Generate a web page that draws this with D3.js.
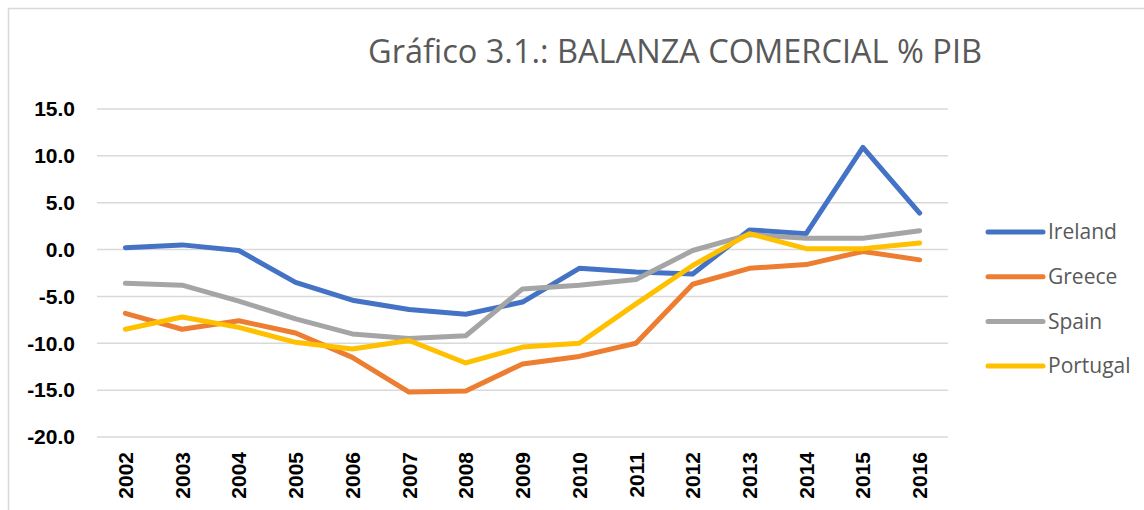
<!DOCTYPE html>
<html>
<head>
<meta charset="utf-8">
<script src="https://cdn.jsdelivr.net/npm/d3@7"></script>
<style>
  body { margin: 0; background: #fff; }
  svg { display: block; }
</style>
</head>
<body>
<div id="chart"></div>
<script>
var YEARS = ['2002','2003','2004','2005','2006','2007','2008','2009','2010','2011','2012','2013','2014','2015','2016'];
var IRELAND  = [0.2, 0.5, -0.1, -3.5, -5.4, -6.4, -6.9, -5.6, -2.0, -2.4, -2.6, 2.1, 1.7, 10.9, 3.9];
var GREECE   = [-6.8, -8.5, -7.6, -8.9, -11.5, -15.2, -15.1, -12.2, -11.4, -10.0, -3.7, -2.0, -1.6, -0.2, -1.1];
var SPAIN    = [-3.6, -3.8, -5.5, -7.4, -9.0, -9.5, -9.2, -4.2, -3.8, -3.2, -0.1, 1.6, 1.2, 1.2, 2.0];
var PORTUGAL = [-8.5, -7.2, -8.3, -9.9, -10.6, -9.7, -12.1, -10.4, -10.0, -5.8, -1.7, 1.7, 0.1, 0.1, 0.7];
var SERIES_NAMES = ['Ireland', 'Greece', 'Spain', 'Portugal'];
var Y_TICKS = [15, 10, 5, 0, -5, -10, -15, -20];
var TITLE = 'Gráfico 3.1.: BALANZA COMERCIAL % PIB';

var W = 1144, H = 510;
var COLORS = ['#4472C4', '#ED7D31', '#A5A5A5', '#FFC000'];
var series = [IRELAND, GREECE, SPAIN, PORTUGAL].map(function(vals, i){
    return {name: SERIES_NAMES[i], color: COLORS[i], values: vals};
});

var svg = d3.select('#chart').append('svg')
    .attr('width', W).attr('height', H);

// outer chart frame
svg.append('rect')
    .attr('x', 8.5).attr('y', 8.5)
    .attr('width', W).attr('height', H)
    .attr('fill', 'none').attr('stroke', '#D9D9D9').attr('stroke-width', 1.5);

var x = d3.scaleBand().domain(YEARS).range([97, 948]);
var y = d3.scaleLinear().domain([-20, 15]).range([437, 109]);

// title
svg.append('text')
    .attr('x', 675).attr('y', 63)
    .attr('text-anchor', 'middle')
    .attr('font-family', 'Open Sans, sans-serif')
    .attr('font-size', 32)
    .attr('textLength', 614)
    .attr('lengthAdjust', 'spacingAndGlyphs')
    .attr('fill', '#595959')
    .text(TITLE);

// gridlines
svg.append('g').selectAll('line')
    .data(Y_TICKS)
    .enter().append('line')
        .attr('x1', 97).attr('x2', 948)
        .attr('y1', function(d){ return y(d); })
        .attr('y2', function(d){ return y(d); })
        .attr('stroke', '#D9D9D9').attr('stroke-width', 1.5);

// y axis labels
var yAxis = svg.append('g')
    .attr('transform', 'translate(97,0)')
    .call(d3.axisLeft(y).tickValues(Y_TICKS).tickSize(0).tickPadding(22)
        .tickFormat(function(d){ return d.toFixed(1); }));
yAxis.select('.domain').remove();
yAxis.selectAll('text')
    .attr('font-family', 'Arial, Liberation Sans, sans-serif')
    .attr('font-weight', 'bold')
    .attr('font-size', 21)
    .attr('fill', '#000');

// x axis labels, rotated
var xAxis = svg.append('g')
    .attr('transform', 'translate(0,437)')
    .call(d3.axisBottom(x).tickSize(0));
xAxis.select('.domain').remove();
xAxis.selectAll('text')
    .attr('transform', 'rotate(-90)')
    .attr('x', -15).attr('y', 0).attr('dy', '0.36em')
    .attr('text-anchor', 'end')
    .attr('font-family', 'Arial, Liberation Sans, sans-serif')
    .attr('font-weight', 'bold')
    .attr('font-size', 21)
    .attr('fill', '#000');

// lines
var line = d3.line()
    .x(function(d, i){ return x(YEARS[i]) + x.bandwidth() / 2; })
    .y(function(d){ return y(d); });

svg.append('g').selectAll('path')
    .data(series)
    .enter().append('path')
        .attr('d', function(s){ return line(s.values); })
        .attr('fill', 'none')
        .attr('stroke', function(s){ return s.color; })
        .attr('stroke-width', 5)
        .attr('stroke-linecap', 'round')
        .attr('stroke-linejoin', 'round');

// legend
var legend = svg.append('g').selectAll('g')
    .data(series)
    .enter().append('g')
        .attr('transform', function(s, i){ return 'translate(988,' + (232 + i * 44.7) + ')'; });
legend.append('line')
    .attr('x1', 0).attr('x2', 55)
    .attr('stroke', function(s){ return s.color; })
    .attr('stroke-width', 5)
    .attr('stroke-linecap', 'round');
legend.append('text')
    .attr('x', 60).attr('dy', '0.35em')
    .attr('font-family', 'Open Sans, sans-serif')
    .attr('font-size', 21)
    .attr('fill', '#595959')
    .text(function(s){ return s.name; });
</script>
</body>
</html>
